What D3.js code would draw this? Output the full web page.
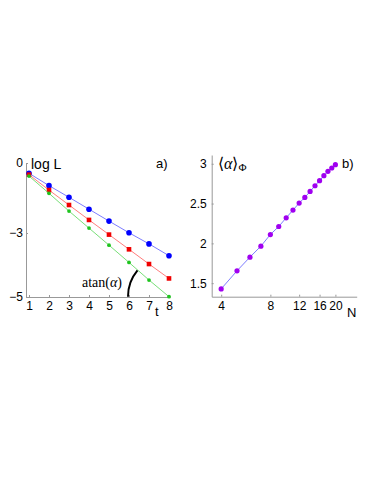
<!DOCTYPE html>
<html>
<head>
<meta charset="utf-8">
<script src="https://cdn.jsdelivr.net/npm/d3@7"></script>
<style>
  body { margin: 0; background: #fff; }
  svg { display: block; }
  .axis path, .axis line { stroke: #999; }
  .axis text { fill: #000; font-family: "Liberation Sans", Arial, sans-serif; font-size: 12px; }
</style>
</head>
<body>
<script>
// panel a) log L vs t
const tValues = [1, 2, 3, 4, 5, 6, 7, 8]
const blueLogL = [-0.44, -0.97, -1.47, -1.98, -2.49, -2.99, -3.34, -3.71]
const redLogL = [-0.50, -1.16, -1.80, -2.44, -3.05, -3.51, -3.97, -4.42]
const greenLogL = [-0.56, -1.30, -2.06, -2.79, -3.38, -3.92, -4.47, -4.99]
const logLTicks = [0, -3, -5]

// panel b) <alpha> vs N
const nValues = [4, 5, 6, 7, 8, 9, 10, 11, 12, 13, 14, 15, 16, 17, 18, 19, 20]
const alphaMean = [1.428, 1.655, 1.827, 1.965, 2.111, 2.212, 2.321, 2.418, 2.506,
  2.577, 2.652, 2.724, 2.787, 2.850, 2.905, 2.947, 2.989]
const nTicks = [4, 8, 12, 16, 20]
const alphaTicks = [1.5, 2, 2.5, 3]

const svg = d3.select('body').append('svg')
  .attr('width', 382)
  .attr('height', 494)

// ---- panel a
const x1 = d3.scaleLinear().domain([0.85, 8.05]).range([26, 170])
const y1 = d3.scaleLinear().domain([-5, -3, 0]).range([297, 233, 163])

svg.append('g')
  .attr('class', 'axis')
  .attr('transform', 'translate(0,297)')
  .call(d3.axisBottom(x1).tickValues(tValues).tickSize(-2).tickSizeOuter(0).tickPadding(4))

svg.append('g')
  .attr('class', 'axis')
  .attr('transform', 'translate(26,0)')
  .call(d3.axisLeft(y1).tickValues(logLTicks).tickSize(-2).tickSizeOuter(0).tickPadding(3)
    .tickFormat(d3.format('d')))

const series = [
  {vals: blueLogL, color: '#0000ff', line: '#5a5aff', shape: 'circle'},
  {vals: redLogL, color: '#f00000', line: '#ff5a5a', shape: 'square'},
  {vals: greenLogL, color: '#1fc41f', line: '#55d655', shape: 'dot'},
]

const line1 = d3.line()
  .x((d, i) => x1(tValues[i]))
  .y(d => y1(d))

series.forEach(s => {
  svg.append('path')
    .datum(s.vals)
    .attr('d', line1)
    .attr('fill', 'none')
    .attr('stroke', s.line)
    .attr('stroke-width', 0.8)

  const g = svg.append('g')
  if (s.shape === 'square') {
    g.selectAll('rect').data(s.vals).join('rect')
      .attr('x', (d, i) => x1(tValues[i]) - 2.3)
      .attr('y', d => y1(d) - 2.3)
      .attr('width', 4.6)
      .attr('height', 4.6)
      .attr('fill', s.color)
  } else {
    g.selectAll('circle').data(s.vals).join('circle')
      .attr('cx', (d, i) => x1(tValues[i]))
      .attr('cy', d => y1(d))
      .attr('r', s.shape === 'circle' ? 2.8 : 1.9)
      .attr('fill', s.color)
  }
})

// angle arc where the green line meets the t axis
const n = tValues.length
const cx = x1(tValues[n - 1]), cy = y1(greenLogL[n - 1])
const theta = Math.atan2(y1(greenLogL[n - 1]) - y1(greenLogL[n - 2]),
  x1(tValues[n - 1]) - x1(tValues[n - 2]))
const arcPath = d3.path()
arcPath.arc(cx, cy, 41, Math.PI, Math.PI + theta, false)
svg.append('path')
  .attr('d', arcPath.toString())
  .attr('fill', 'none')
  .attr('stroke', '#000')
  .attr('stroke-width', 2)

const atanText = svg.append('text')
  .attr('x', 82)
  .attr('y', 287)
  .attr('font-family', '"Liberation Serif", "Times New Roman", serif')
  .attr('font-size', 14)
atanText.append('tspan').text('atan(')
atanText.append('tspan').attr('font-style', 'italic').text('α')
atanText.append('tspan').text(')')

svg.append('text')
  .attr('x', 31).attr('y', 169)
  .attr('font-family', '"Liberation Sans", Arial, sans-serif')
  .attr('font-size', 14)
  .text('log L')

svg.append('text')
  .attr('x', 156).attr('y', 168)
  .attr('font-family', '"Liberation Sans", Arial, sans-serif')
  .attr('font-size', 13)
  .text('a)')

svg.append('text')
  .attr('x', 155).attr('y', 316)
  .attr('font-family', '"Liberation Sans", Arial, sans-serif')
  .attr('font-size', 13)
  .text('t')

// ---- panel b
const x2 = d3.scaleLog().domain([3.5, 27]).range([211.7, 356.7])
const y2 = d3.scaleLinear().domain([1.33, 3.11]).range([296.7, 155])

svg.append('g')
  .attr('class', 'axis')
  .attr('transform', 'translate(0,296.7)')
  .call(d3.axisBottom(x2).tickValues(nTicks).tickSize(-2).tickSizeOuter(0).tickPadding(5)
    .tickFormat(d3.format('d')))

svg.append('g')
  .attr('class', 'axis')
  .attr('transform', 'translate(211.7,0)')
  .call(d3.axisLeft(y2).tickValues(alphaTicks).tickSize(-2).tickSizeOuter(0).tickPadding(5)
    .tickFormat(d => String(d)))

svg.append('path')
  .datum(alphaMean)
  .attr('d', d3.line().x((d, i) => x2(nValues[i])).y(d => y2(d)))
  .attr('fill', 'none')
  .attr('stroke', '#5a5aff')
  .attr('stroke-width', 0.8)

svg.append('g').selectAll('circle').data(alphaMean).join('circle')
  .attr('cx', (d, i) => x2(nValues[i]))
  .attr('cy', d => y2(d))
  .attr('r', 2.6)
  .attr('fill', '#a000f0')

const alphaLabel = svg.append('text')
  .attr('x', 218).attr('y', 169)
  .attr('font-family', '"Liberation Serif", "Times New Roman", serif')
  .attr('font-size', 16)
alphaLabel.append('tspan').text('⟨')
alphaLabel.append('tspan').attr('font-style', 'italic').text('α')
alphaLabel.append('tspan').text('⟩')
alphaLabel.append('tspan').attr('font-size', 11).attr('dy', 2).text('Φ')

svg.append('text')
  .attr('x', 342).attr('y', 168)
  .attr('font-family', '"Liberation Sans", Arial, sans-serif')
  .attr('font-size', 13)
  .text('b)')

svg.append('text')
  .attr('x', 347).attr('y', 317)
  .attr('font-family', '"Liberation Sans", Arial, sans-serif')
  .attr('font-size', 13)
  .text('N')
</script>
</body>
</html>
